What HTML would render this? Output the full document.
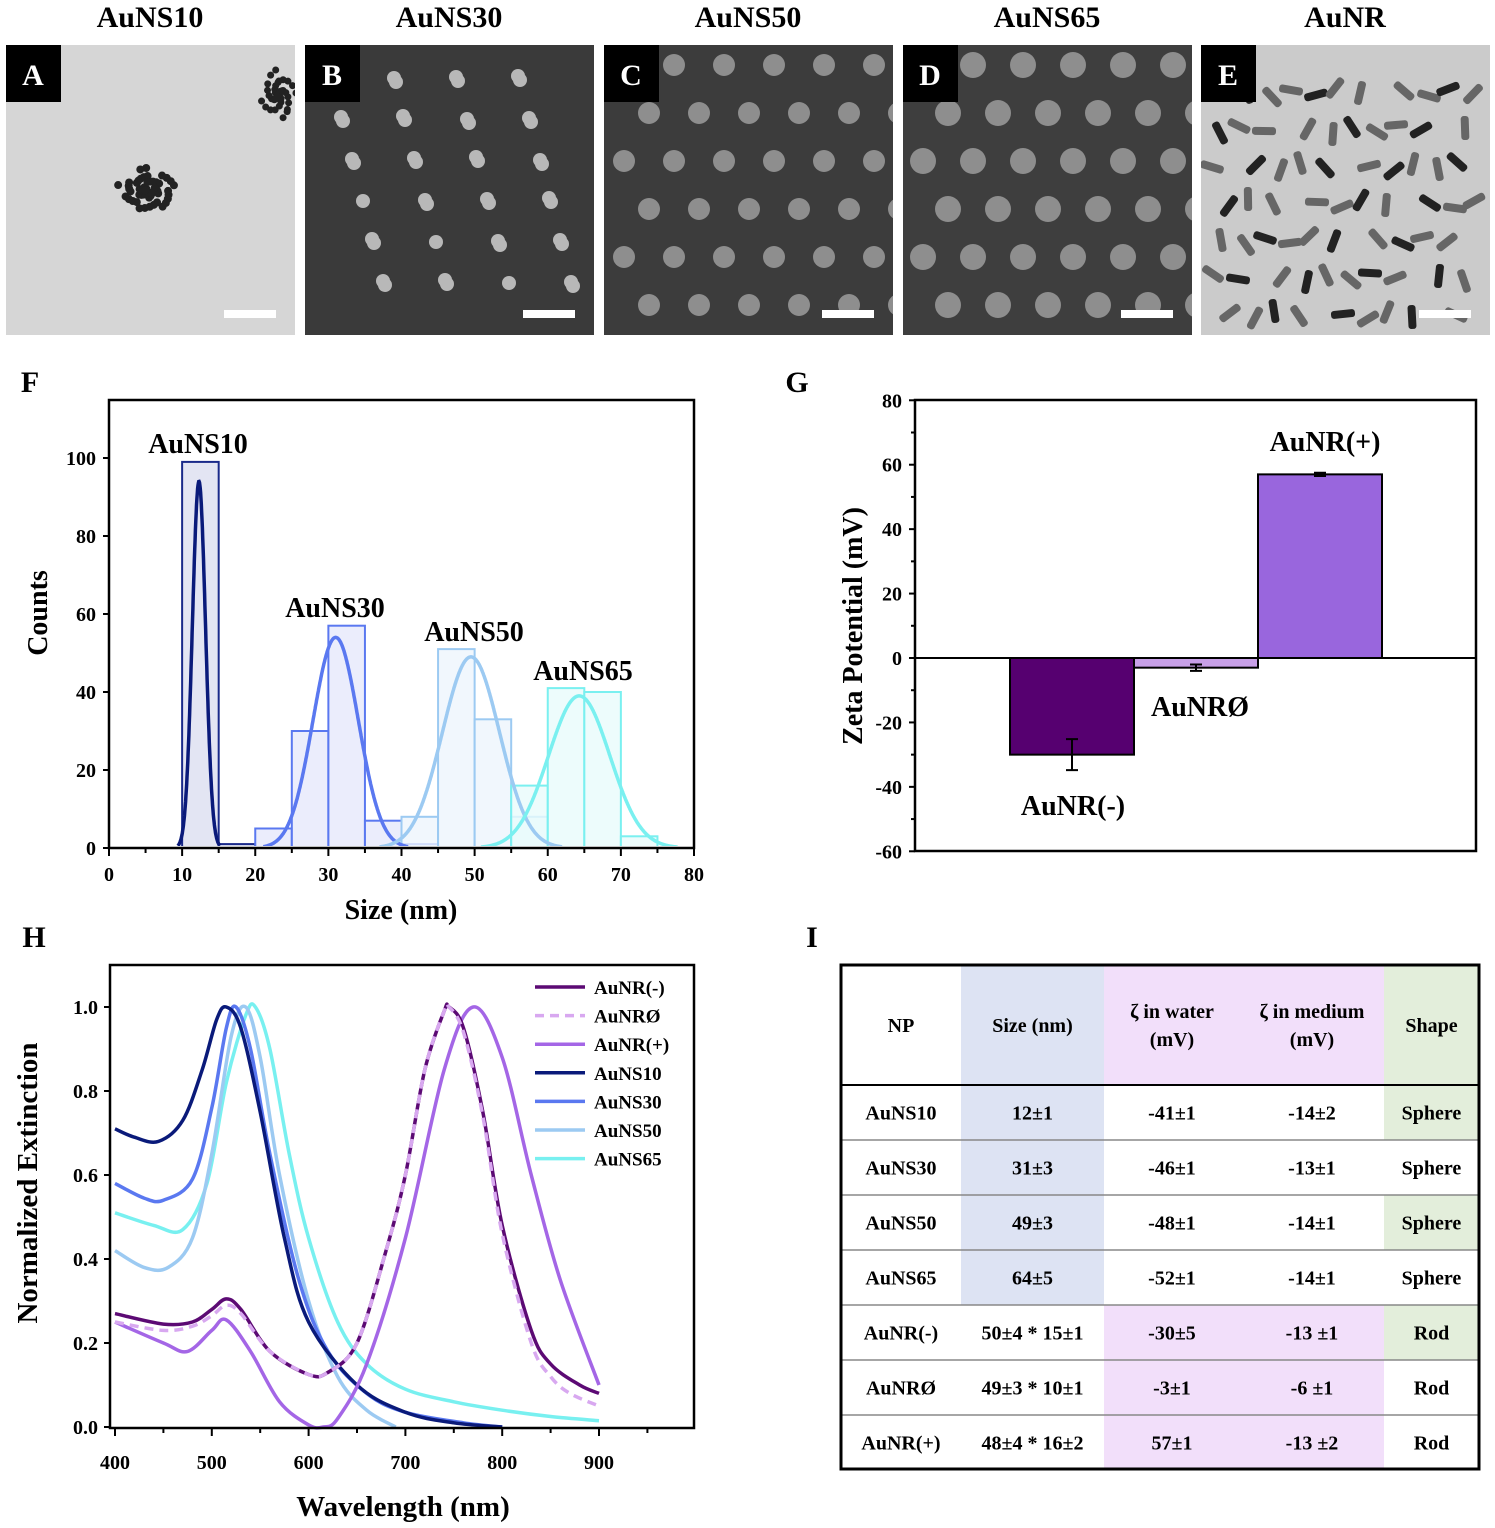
<!DOCTYPE html>
<html><head><meta charset="utf-8"><style>
body{margin:0;background:#fff;}
svg{display:block;font-family:"Liberation Serif",serif;font-weight:bold;}
</style></head><body>
<svg id="fig" width="1495" height="1528" viewBox="0 0 1495 1528" xmlns="http://www.w3.org/2000/svg">
<defs id="defs"></defs>
<g id="imgs"></g>
<g id="pf"></g>
<g id="pg"></g>
<g id="ph"></g>
<g id="pi"></g>
</svg>
<script>
// ---------- Panel F data ----------
const binStarts10=[10,15], binCounts10=[99,1];
const binStarts30=[20,25,30,35,40], binCounts30=[5,30,57,7,1];
const binStarts50=[40,45,50,55], binCounts50=[8,51,33,8];
const binStarts65=[55,60,65,70], binCounts65=[16,41,40,3];
const fitMeans=[12.3,31,49.5,64.3], fitSigmas=[0.9,3.1,3.9,4.2], fitAmps=[94,54,49,39];
const fLabels=["AuNS10","AuNS30","AuNS50","AuNS65"];
const fXTicks=[0,10,20,30,40,50,60,70,80], fYTicks=[0,20,40,60,80,100];
// ---------- Panel G data ----------
const gCats=["AuNR(-)","AuNRØ","AuNR(+)"], gVals=[-30,-3,57], gErrs=[4.8,1,0.5];
const gYTicks=[-60,-40,-20,0,20,40,60,80];
// ---------- Panel H data ----------
const hNames=["AuNR(-)","AuNRØ","AuNR(+)","AuNS10","AuNS30","AuNS50","AuNS65"];
const wlRm=[400,450,480,500,515,530,560,600,620,650,680,700,720,740,745,760,780,800,830,850,880,900];
const exRm=[0.27,0.245,0.25,0.28,0.305,0.28,0.18,0.125,0.13,0.2,0.42,0.6,0.85,0.99,1.0,0.95,0.75,0.48,0.23,0.15,0.1,0.08];
const wlR0=[400,450,480,500,515,530,560,600,620,650,680,700,720,740,745,760,780,800,830,850,870,900];
const exR0=[0.25,0.23,0.24,0.265,0.29,0.27,0.18,0.125,0.13,0.2,0.42,0.6,0.85,0.99,1.0,0.94,0.74,0.46,0.2,0.12,0.08,0.05];
const wlRp=[400,450,475,500,515,540,570,600,615,630,660,700,740,770,800,830,860,900];
const exRp=[0.25,0.2,0.18,0.23,0.255,0.18,0.06,0.005,0.0,0.02,0.15,0.45,0.85,1.0,0.88,0.6,0.35,0.1];
const wl10=[400,420,445,470,490,505,515,530,550,575,600,650,700,750,800];
const ex10=[0.71,0.69,0.68,0.73,0.85,0.97,1.0,0.95,0.75,0.45,0.25,0.1,0.035,0.01,0.0];
const wl30=[400,430,450,480,500,515,525,540,560,590,620,660,700,760,800];
const ex30=[0.58,0.545,0.54,0.59,0.76,0.95,1.0,0.9,0.65,0.35,0.18,0.08,0.035,0.01,0.0];
const wl50=[400,430,455,480,500,520,535,550,570,600,630,660,690];
const ex50=[0.42,0.38,0.38,0.45,0.65,0.93,1.0,0.88,0.6,0.3,0.12,0.04,0.0];
const wl65=[400,440,470,495,515,535,545,560,580,600,630,660,700,750,800,850,900];
const ex65=[0.51,0.48,0.47,0.58,0.82,0.98,1.0,0.9,0.65,0.45,0.25,0.15,0.09,0.06,0.04,0.025,0.015];
const hXTicks=[400,500,600,700,800,900], hYTicks=[0,0.2,0.4,0.6,0.8,1.0];
// ---------- Panel I data ----------
const tHead=[["NP"],["Size (nm)"],["ζ  in water","(mV)"],["ζ in medium","(mV)"],["Shape"]];
const tRows=[["AuNS10","12±1","-41±1","-14±2","Sphere"],["AuNS30","31±3","-46±1","-13±1","Sphere"],["AuNS50","49±3","-48±1","-14±1","Sphere"],["AuNS65","64±5","-52±1","-14±1","Sphere"],["AuNR(-)","50±4 * 15±1","-30±5","-13 ±1","Rod"],["AuNRØ","49±3 * 10±1","-3±1","-6 ±1","Rod"],["AuNR(+)","48±4 * 16±2","57±1","-13 ±2","Rod"]];

const NS="http://www.w3.org/2000/svg";
function mk(tag,attrs,parent,text){const e=document.createElementNS(NS,tag);for(const k in attrs)e.setAttribute(k,attrs[k]);if(text!==undefined)e.textContent=text;parent.appendChild(e);return e;}
const defs=document.getElementById('defs');

// ---------- micrographs ----------
const imgs=document.getElementById('imgs');
const imX=[6,305,604,903,1201], imT=["AuNS10","AuNS30","AuNS50","AuNS65","AuNR"], imL=["A","B","C","D","E"];
const imBg=["#d6d6d6","#3a3a3a","#3c3c3c","#3e3e3e","#cbcbcb"];
for(let i=0;i<5;i++){
  const cp=mk('clipPath',{id:'imc'+i},defs);
  mk('rect',{x:imX[i],y:45,width:289,height:290},cp);
  const g=mk('g',{},imgs);
  
  
  mk('text',{x:imX[i]+144,y:27,'text-anchor':'middle','font-size':30},g,imT[i]);
  mk('rect',{x:imX[i],y:45,width:289,height:290,fill:imBg[i]},g);
  const pr=mk('g',{'clip-path':'url(#imc'+i+')'},g);
  if(i===0){
    for(let a=0;a<60;a++){const r=(a*7)%23,t=a*2.4;mk('circle',{cx:imX[i]+140+Math.cos(t)*r*1.3,cy:190+Math.sin(t)*r,r:4,fill:'#222'},pr);}
    for(let a=0;a<40;a++){const r=(a*5)%19,t=a*2.4;mk('circle',{cx:imX[i]+272+Math.cos(t)*r,cy:95+Math.sin(t)*r*1.4,r:3.5,fill:'#222'},pr);}
  } else if(i===1){
    for(let a=0;a<45;a++){mk('circle',{cx:imX[i]+25+((a*73)%250),cy:75+((a*41)%245),r:7,fill:'#b8b8b8'},pr);}
  } else if(i===2||i===3){
    for(let r=0;r<6;r++)for(let c=0;c<6;c++){mk('circle',{cx:imX[i]+20+c*50+(r%2)*25,cy:65+r*48,r:i===2?11:13,fill:'#8e8e8e'},pr);}
  } else {
    for(let a=0;a<70;a++){const x=imX[i]+10+((a*61)%270),y=60+((a*37)%260),ang=(a*47)%180;mk('rect',{x:x-12,y:y-4,width:24,height:8,rx:3,fill:a%3?'#666':'#222',transform:`rotate(${ang} ${x} ${y})`},pr);}
  }
  mk('rect',{x:imX[i],y:45,width:55,height:57,fill:'#000'},g);
  mk('text',{x:imX[i]+27,y:85,'text-anchor':'middle','font-size':30,fill:'#fff'},g,imL[i]);
  mk('rect',{x:imX[i]+218,y:310,width:52,height:8,fill:'#fff'},g);
}

// panel letters
[["F",30,392],["G",797,392],["H",34,947],["I",812,947]].forEach(p=>{
  const t=mk('text',{x:p[1],y:p[2],'font-size':30,'text-anchor':'middle'},document.getElementById('fig'),p[0]);
  
  
});

// ---------- Panel F ----------
(function(){
  const g=document.getElementById('pf');
  const X=v=>109+v*(694-109)/80, Y=v=>848-v*3.9;
  const cp=mk('clipPath',{id:'fclip'},defs);mk('rect',{x:109,y:400,width:585,height:446},cp);
  const pl=mk('g',{'clip-path':'url(#fclip)'},g);
  const cols=["#1a2a8a","#5a78f0","#9ccaf2","#7af0f0"], fills=["#dcdff0","#e6e9fb","#eef5fc","#e9fbfb"];
  const sets=[[binStarts10,binCounts10],[binStarts30,binCounts30],[binStarts50,binCounts50],[binStarts65,binCounts65]];
  sets.forEach((s,k)=>{
    s[0].forEach((b,j)=>{
      const r=mk('rect',{x:X(b),y:Y(s[1][j]),width:X(b+5)-X(b),height:Y(0)-Y(s[1][j]),fill:fills[k],'fill-opacity':0.8,stroke:cols[k],'stroke-width':2},pl);
      
      
    });
  });
  for(let k=0;k<4;k++){
    let d="";
    for(let x=fitMeans[k]-3.2*fitSigmas[k];x<=fitMeans[k]+3.2*fitSigmas[k];x+=0.05){const y=fitAmps[k]*Math.exp(-0.5*((x-fitMeans[k])/fitSigmas[k])**2);d+=(d?"L":"M")+X(x).toFixed(1)+" "+Y(y).toFixed(1);}
    const p=mk('path',{d:d,fill:'none',stroke:k==0?"#0a1a7a":cols[k],'stroke-width':3.5},pl);
    
    
  }
  const lp=[[198,453],[335,617],[474,641],[583,680]];
  fLabels.forEach((l,k)=>{const t=mk('text',{x:lp[k][0],y:lp[k][1],'text-anchor':'middle','font-size':28},g,l);
    
    });
  mk('rect',{x:109,y:400,width:585,height:448,fill:'none',stroke:'#000','stroke-width':2.5},g);
  fXTicks.forEach(v=>{mk('line',{x1:X(v),x2:X(v),y1:848,y2:856,stroke:'#000','stroke-width':2},g);
    if(v<80)mk('line',{x1:X(v+5),x2:X(v+5),y1:848,y2:853,stroke:'#000','stroke-width':2},g);
    mk('text',{x:X(v),y:881,'text-anchor':'middle','font-size':20},g,v);});
  fYTicks.forEach(v=>{mk('line',{x1:103,x2:109,y1:Y(v),y2:Y(v),stroke:'#000','stroke-width':2},g);
    mk('text',{x:96,y:Y(v)+7,'text-anchor':'end','font-size':20},g,v);});
  const xt=mk('text',{x:401,y:919,'text-anchor':'middle','font-size':28},g,"Size (nm)");
  
  const yt=mk('text',{x:0,y:0,'text-anchor':'middle','font-size':28,transform:'translate(47 613) rotate(-90)'},g,"Counts");
  
})();

// ---------- Panel G ----------
(function(){
  const g=document.getElementById('pg');
  const Y=v=>658-v*(451/140);
  const x0=1010,bw=124,cols=["#560070","#c8a0e8","#9966dd"];
  gCats.forEach((c,i)=>{
    const x=x0+i*bw,y1=Y(Math.max(0,gVals[i])),y2=Y(Math.min(0,gVals[i]));
    const r=mk('rect',{x:x,y:y1,width:bw,height:y2-y1,fill:cols[i],stroke:'#000','stroke-width':2},g);
    
    
    const cx=x+bw/2,a=Y(gVals[i]+gErrs[i]),b=Y(gVals[i]-gErrs[i]);
    mk('path',{d:`M${cx} ${a}V${b}M${cx-6} ${a}H${cx+6}M${cx-6} ${b}H${cx+6}`,stroke:'#000','stroke-width':2,fill:'none'},g);
  });
  mk('line',{x1:915,x2:1476,y1:Y(0),y2:Y(0),stroke:'#000','stroke-width':2},g);
  const lp=[[1073,815],[1200,716],[1325,451]];
  gCats.forEach((c,i)=>{const t=mk('text',{x:lp[i][0],y:lp[i][1],'text-anchor':'middle','font-size':28},g,c);
    });
  mk('rect',{x:915,y:400,width:561,height:451,fill:'none',stroke:'#000','stroke-width':2.5},g);
  gYTicks.forEach(v=>{mk('line',{x1:909,x2:915,y1:Y(v),y2:Y(v),stroke:'#000','stroke-width':2},g);
    if(v<80)mk('line',{x1:911,x2:915,y1:Y(v+10),y2:Y(v+10),stroke:'#000','stroke-width':2},g);
    mk('text',{x:902,y:Y(v)+7,'text-anchor':'end','font-size':20},g,v);});
  const yt=mk('text',{x:0,y:0,'text-anchor':'middle','font-size':28,transform:'translate(862 626) rotate(-90)'},g,"Zeta Potential (mV)");
  
})();

// ---------- Panel H ----------
(function(){
  const g=document.getElementById('ph');
  const X=v=>115+(v-400)*(484/500), Y=v=>1427-v*420;
  const series=[[wlRm,exRm,"#5c0a74",""],[wlR0,exR0,"#d8a8f0","9 6"],[wlRp,exRp,"#a466e6",""],[wl10,ex10,"#0a1a7a",""],[wl30,ex30,"#5a78f0",""],[wl50,ex50,"#9ccaf2",""],[wl65,ex65,"#78f0f0",""]];
  const order=[6,5,4,3,2,0,1];
  order.forEach(k=>{
    const s=series[k];const pts=s[0].map((w,i)=>[X(w),Y(s[1][i])]);
    let d="M"+pts[0][0]+" "+pts[0][1];
    for(let i=0;i<pts.length-1;i++){const p0=pts[Math.max(0,i-1)],p1=pts[i],p2=pts[i+1],p3=pts[Math.min(pts.length-1,i+2)];
      d+=`C${p1[0]+(p2[0]-p0[0])/6} ${p1[1]+(p2[1]-p0[1])/6} ${p2[0]-(p3[0]-p1[0])/6} ${p2[1]-(p3[1]-p1[1])/6} ${p2[0]} ${p2[1]}`;}
    const p=mk('path',{d:d,fill:'none',stroke:s[2],'stroke-width':3.5,'stroke-dasharray':s[3]},g);
    
    
  });
  hNames.forEach((n,i)=>{const y=987+28.6*i;
    const le=mk('g',{},g);
    
    
    mk('line',{x1:535,x2:585,y1:y,y2:y,stroke:series[i][2],'stroke-width':3.5,'stroke-dasharray':series[i][3]},le);
    mk('text',{x:594,y:y+7,'font-size':19},le,n);});
  mk('rect',{x:110,y:965,width:584,height:463,fill:'none',stroke:'#000','stroke-width':2.5},g);
  hXTicks.forEach(v=>{mk('line',{x1:X(v),x2:X(v),y1:1428,y2:1436,stroke:'#000','stroke-width':2},g);
    mk('line',{x1:X(v+50),x2:X(v+50),y1:1428,y2:1433,stroke:'#000','stroke-width':2},g);
    mk('text',{x:X(v),y:1469,'text-anchor':'middle','font-size':20},g,v);});
  hYTicks.forEach(v=>{mk('line',{x1:104,x2:110,y1:Y(v),y2:Y(v),stroke:'#000','stroke-width':2},g);
    mk('text',{x:98,y:Y(v)+7,'text-anchor':'end','font-size':20},g,v.toFixed(1));});
  const xt=mk('text',{x:403,y:1516,'text-anchor':'middle','font-size':29},g,"Wavelength (nm)");
  
  const yt=mk('text',{x:0,y:0,'text-anchor':'middle','font-size':29,transform:'translate(37 1183) rotate(-90)'},g,"Normalized Extinction");
  
})();

// ---------- Panel I ----------
(function(){
  const g=document.getElementById('pi');
  const cx=[841,961,1104,1240,1384,1479], top=965, hh=120, rh=55;
  const blue="#dde3f3",lav="#f2dffa",grn="#e3eedb";
  mk('rect',{x:cx[1],y:top,width:cx[2]-cx[1],height:hh+4*rh,fill:blue},g);
  mk('rect',{x:cx[2],y:top,width:cx[4]-cx[2],height:hh,fill:lav},g);
  mk('rect',{x:cx[2],y:top+hh+4*rh,width:cx[4]-cx[2],height:3*rh,fill:lav},g);
  mk('rect',{x:cx[4],y:top,width:cx[5]-cx[4],height:hh,fill:grn},g);
  [0,2,4].forEach(r=>mk('rect',{x:cx[4],y:top+hh+r*rh,width:cx[5]-cx[4],height:rh,fill:grn},g));
  tHead.forEach((h,j)=>{const mx=(cx[j]+cx[j+1])/2;
    h.forEach((l,k)=>{const t=mk('text',{x:mx,y:top+hh/2+7+(k-(h.length-1)/2)*28,'text-anchor':'middle','font-size':20},g,l);
      });});
  tRows.forEach((r,i)=>{const y=top+hh+i*rh;
    mk('line',{x1:cx[0],x2:cx[5],y1:y,y2:y,stroke:i==0?'#000':'#888','stroke-width':i==0?2:1.5},g);
    r.forEach((c,j)=>{const t=mk('text',{x:(cx[j]+cx[j+1])/2,y:y+rh/2+7,'text-anchor':'middle','font-size':20},g,c);
      });});
  mk('rect',{x:841,y:965,width:638,height:504,fill:'none',stroke:'#000','stroke-width':3},g);
})();
</script>
</body></html>
